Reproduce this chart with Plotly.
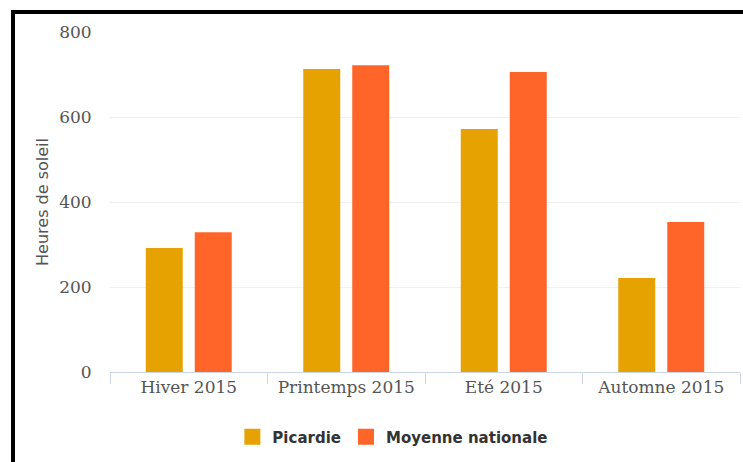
import plotly.graph_objects as go

categories = ["Hiver 2015", "Printemps 2015", "Eté 2015", "Automne 2015"]
picardie = [292, 713, 572, 221]
moyenne = [329, 722, 706, 353]
y_ticks = [0, 200, 400, 600, 800]
series_names = ["Picardie", "Moyenne nationale"]
series_colors = ["#E6A200", "#FF6429"]

W, H = 743, 462
L, R, T, B = 110, 3, 32, 90
pw, ph = W - L - R, H - T - B

def px_x(px):
    return (px - L) / pw

def px_y(py):
    return (H - B - py) / ph

fig = go.Figure()
for name, vals, col in zip(series_names, [picardie, moyenne], series_colors):
    fig.add_trace(go.Bar(name=name, x=categories, y=vals, marker_color=col,
                         marker_line_width=0, showlegend=False))
for name, col in zip(series_names, series_colors):
    fig.add_trace(go.Scatter(name=name, x=[None], y=[None], mode="markers",
                             marker=dict(symbol="square", size=18, color=col), showlegend=True))

fig.update_layout(
    width=W, height=H,
    margin=dict(l=L, r=R, t=T, b=B, pad=0),
    paper_bgcolor="white", plot_bgcolor="white",
    barmode="group", bargap=0.378, bargroupgap=0.245,
    legend=dict(orientation="h", x=0.449, xanchor="center", y=px_y(437), yanchor="middle",
                font=dict(family="DejaVu Sans", size=15, color="#333333", weight="bold"),
                itemwidth=30, tracegroupgap=0),
    xaxis=dict(
        showline=True, linecolor="#ccd6eb", linewidth=1,
        ticks="outside", tickson="boundaries", ticklen=11, tickcolor="#ccd6eb",
        tickfont=dict(family="DejaVu Serif", size=17, color="#555555"),
        showgrid=False,
    ),
    yaxis=dict(
        range=[0, 800], tickvals=y_ticks, showgrid=True, gridcolor="#f0f0f0", gridwidth=1,
        zeroline=False, showline=False,
        ticks="outside", ticklen=14, tickcolor="rgba(0,0,0,0)",
        tickfont=dict(family="DejaVu Serif", size=17, color="#555555"),
        title=dict(text="Heures de soleil", font=dict(family="DejaVu Sans", size=16, color="#555555"), standoff=6),
    ),
    shapes=[
        dict(type="line", xref="paper", yref="paper", x0=px_x(13), x1=px_x(13), y0=px_y(10), y1=px_y(470),
             line=dict(color="black", width=4), layer="above"),
        dict(type="line", xref="paper", yref="paper", x0=px_x(11), x1=px_x(750), y0=px_y(12), y1=px_y(12),
             line=dict(color="black", width=4), layer="above"),
    ],
)

fig.write_html("out.html")
